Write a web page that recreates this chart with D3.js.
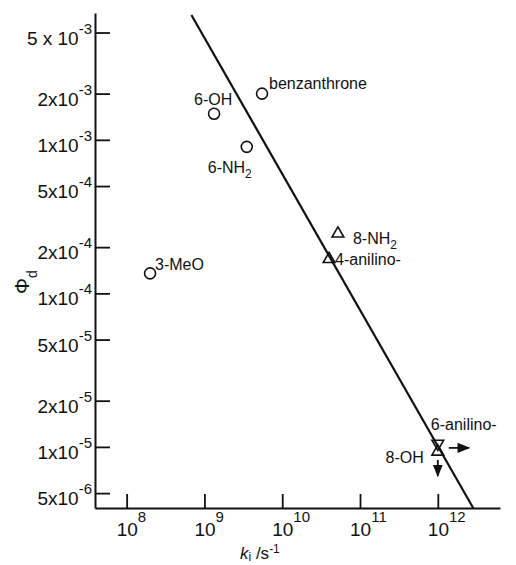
<!DOCTYPE html>
<html>
<head>
<meta charset="utf-8">
<script src="https://cdn.jsdelivr.net/npm/d3@7"></script>
<style>
  body { margin: 0; background: #fff; }
  text { font-family: "Liberation Sans", Arial, sans-serif; fill: #111; }
</style>
</head>
<body>
<script>
// data
var compounds = ['benzanthrone', '6-OH', '6-NH2', '3-MeO', '8-NH2', '4-anilino-', '6-anilino-', '8-OH'];
var kVals     = [5.5e9, 1.33e9, 3.5e9, 2.0e8, 5.2e10, 4.0e10, 1.0e12, 1.0e12];
var phiVals   = [2.0e-3, 1.48e-3, 9.0e-4, 1.35e-4, 2.45e-4, 1.67e-4, 0.93e-5, 1.05e-5];
var markers   = ['circle', 'circle', 'circle', 'circle', 'up', 'up', 'up', 'down'];

// fitted line, two ends
var fitK   = [6.8e8, 2.85e12];
var fitPhi = [6.5e-3, 4.0e-6];

var xTicks = [1e8, 1e9, 1e10, 1e11, 1e12];
var xExp   = ['8', '9', '10', '11', '12'];
var yTicks = [5e-3, 2e-3, 1e-3, 5e-4, 2e-4, 1e-4, 5e-5, 2e-5, 1e-5, 5e-6];
var yMant  = ['5 x 10', '2x10', '1x10', '5x10', '2x10', '1x10', '5x10', '2x10', '1x10', '5x10'];
var yExp   = ['-3', '-3', '-3', '-4', '-4', '-4', '-5', '-5', '-5', '-6'];

var w = 516, h = 565;
// plot box edges (window.top is reserved, so use other names)
var padL = 95, padR = 500, padT = 13, padB = 508;

var svg = d3.select('body').append('svg')
  .attr('width', w)
  .attr('height', h);

var x = d3.scaleLog().domain([3.92e7, 6.3e12]).range([padL, padR]);
var y = d3.scaleLog().domain([4.0e-6, 6.7e-3]).range([padB, padT]);

// axes, ticks point inward
svg.append('g')
  .attr('transform', 'translate(0,' + padB + ')')
  .call(d3.axisBottom(x).tickValues(xTicks).tickSizeInner(-14).tickSizeOuter(0).tickFormat(''));
svg.append('g')
  .attr('transform', 'translate(' + padL + ',0)')
  .call(d3.axisLeft(y).tickValues(yTicks).tickSizeInner(-15).tickSizeOuter(0).tickFormat(''));

svg.selectAll('.domain').attr('stroke', '#111').attr('stroke-width', 2);
svg.selectAll('.tick line').attr('stroke', '#111').attr('stroke-width', 1.8);

// x tick labels: 10 with exponent
xTicks.forEach(function (v, i) {
  var t = svg.append('text')
    .attr('x', x(v) - 10)
    .attr('y', 536)
    .attr('font-size', 19);
  t.append('tspan').text('10');
  t.append('tspan').attr('dy', -14).attr('font-size', 15).text(xExp[i]);
});

// y tick labels
yTicks.forEach(function (v, i) {
  var t = svg.append('text')
    .attr('x', 92)
    .attr('y', y(v) + 12)
    .attr('text-anchor', 'end')
    .attr('font-size', 19);
  t.append('tspan').text(yMant[i]);
  t.append('tspan').attr('dy', -11).attr('font-size', 15).text(yExp[i]);
});

// axis titles
var xt = svg.append('text')
  .attr('x', 240)
  .attr('y', 559)
  .attr('font-size', 17);
xt.append('tspan').attr('font-style', 'italic').text('k');
xt.append('tspan').attr('dy', 2).attr('font-size', 12).text('i');
xt.append('tspan').attr('dy', -2).text(' /s');
xt.append('tspan').attr('dy', -6).attr('font-size', 12).text('-1');

var yt = svg.append('text')
  .attr('transform', 'translate(29,294) rotate(-90)')
  .attr('font-size', 20);
yt.append('tspan').text('\u03A6');
yt.append('tspan').attr('dy', 8).attr('font-size', 14).text('d');

// fitted line
svg.append('path')
  .datum(d3.range(fitK.length))
  .attr('d', d3.line().x(function (i) { return x(fitK[i]); }).y(function (i) { return y(fitPhi[i]); }))
  .attr('stroke', '#111')
  .attr('stroke-width', 2.2)
  .attr('fill', 'none');

// points
var idx = d3.range(compounds.length);
var sym = d3.symbol().type(d3.symbolTriangle).size(60);

svg.selectAll('.pt')
  .data(idx)
  .enter()
  .append('path')
    .attr('class', 'pt')
    .attr('d', function (i) {
      return markers[i] === 'circle' ? d3.symbol().type(d3.symbolCircle).size(95)() : sym();
    })
    .attr('transform', function (i) {
      var r = markers[i] === 'down' ? ' rotate(180)' : '';
      return 'translate(' + x(kVals[i]) + ',' + y(phiVals[i]) + ')' + r;
    })
    .attr('fill', 'none')
    .attr('stroke', '#111')
    .attr('stroke-width', 1.6);

// label offsets from their points
var labelPos = {
  'benzanthrone': [7, -5, 'start'],
  '6-OH':         [-20, -9, 'start'],
  '6-NH2':        [-39, 26, 'start'],
  '3-MeO':        [5, -3, 'start'],
  '8-NH2':        [15, 10, 'start'],
  '4-anilino-':   [6, 6, 'start'],
  '6-anilino-':   [-7, -22, 'start'],
  '8-OH':         [-14, 19, 'end']
};

idx.forEach(function (i) {
  var name = compounds[i];
  var p = labelPos[name];
  var t = svg.append('text')
    .attr('x', x(kVals[i]) + p[0])
    .attr('y', y(phiVals[i]) + p[1])
    .attr('text-anchor', p[2])
    .attr('font-size', 16);
  if (name.slice(-3) === 'NH2') {
    t.append('tspan').text(name.slice(0, -1));
    t.append('tspan').attr('dy', 5).attr('font-size', 12).text('2');
  } else {
    t.text(name);
  }
});

// limit arrows on the 1e12 point
svg.append('defs').append('marker')
  .attr('id', 'head')
  .attr('viewBox', '0 0 10 10')
  .attr('refX', 9).attr('refY', 5)
  .attr('markerWidth', 7).attr('markerHeight', 7)
  .attr('orient', 'auto')
  .append('path')
    .attr('d', 'M0,1L10,5L0,9Z')
    .attr('fill', '#111');

var ax = x(kVals[6]), ay = y(1e-5);
svg.append('line')
  .attr('x1', ax + 11).attr('y1', ay + 1)
  .attr('x2', ax + 31).attr('y2', ay + 1)
  .attr('stroke', '#111').attr('stroke-width', 1.8)
  .attr('marker-end', 'url(#head)');
svg.append('line')
  .attr('x1', ax).attr('y1', ay + 13)
  .attr('x2', ax).attr('y2', ay + 29)
  .attr('stroke', '#111').attr('stroke-width', 1.8)
  .attr('marker-end', 'url(#head)');
</script>
</body>
</html>
